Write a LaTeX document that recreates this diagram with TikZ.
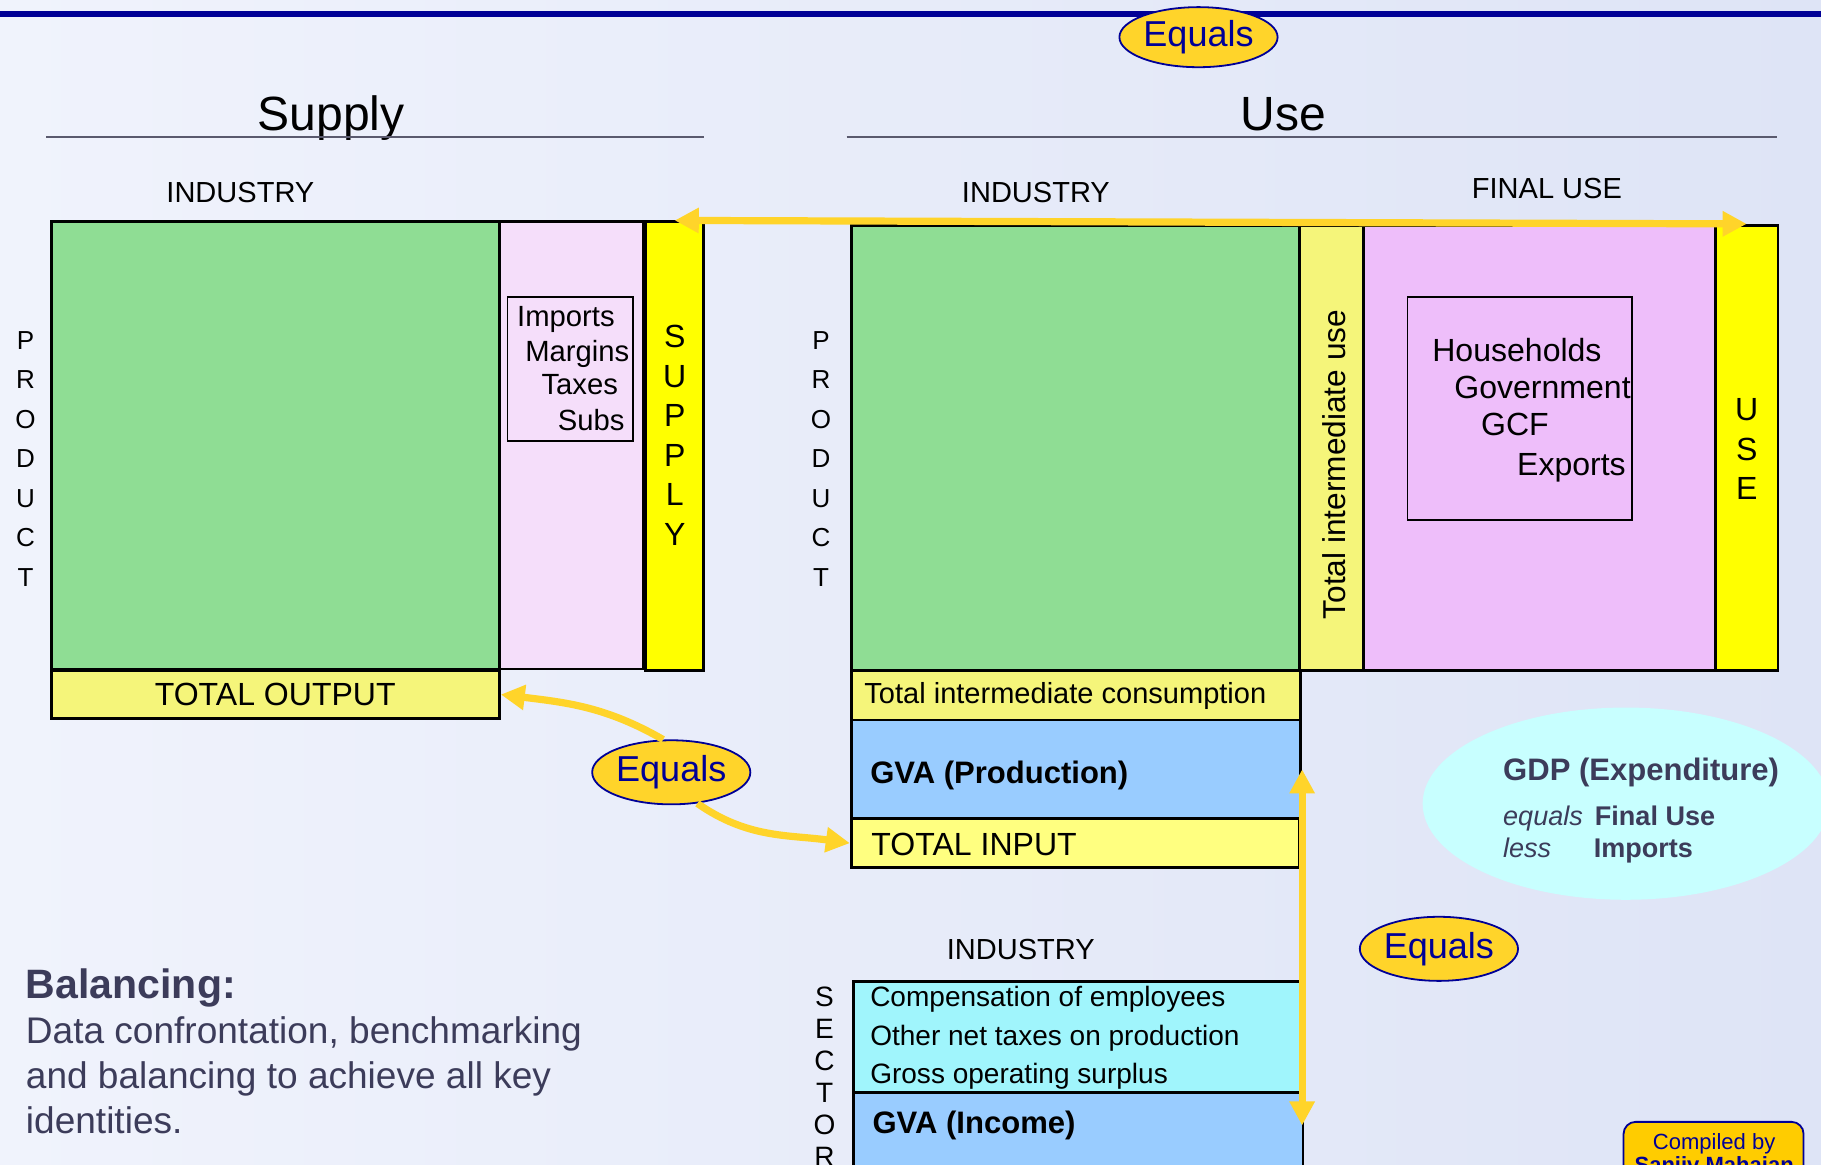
\documentclass[tikz,border=0pt]{standalone}
\usepackage{fontspec}
\setmainfont{Liberation Sans}
\usetikzlibrary{arrows.meta,shapes.geometric,fit}

\definecolor{bgL}{RGB}{240,243,252}
\definecolor{bgR}{RGB}{222,228,246}
\definecolor{navy}{RGB}{0,0,150}
\definecolor{slate}{RGB}{60,60,90}
\definecolor{rulec}{RGB}{90,90,110}
\definecolor{mgreen}{RGB}{143,221,148}
\definecolor{spink}{RGB}{245,222,250}
\definecolor{upink}{RGB}{238,190,250}
\definecolor{syel}{RGB}{255,255,0}
\definecolor{lyel}{RGB}{245,245,122}
\definecolor{tyel}{RGB}{255,255,128}
\definecolor{gvab}{RGB}{153,204,255}
\definecolor{incc}{RGB}{160,245,252}
\definecolor{gdpc}{RGB}{200,255,255}
\definecolor{gold}{RGB}{255,212,42}
\definecolor{compy}{RGB}{255,204,0}
\newcommand\fsz[2]{\fontsize{#1}{#2}\selectfont}

\begin{document}
\begin{tikzpicture}[x=0.58pt,y=-0.58pt,
  blk/.style={draw=black,line width=1.4pt,inner sep=0pt},
  thinbox/.style={draw=black,line width=0.9pt},
  lbl/.style={inner sep=0pt},
  eqs/.style={ellipse,draw=navy,line width=0.9pt,fill=gold,text=navy,inner sep=0pt,
    minimum width=79pt,minimum height=32pt,font=\fsz{18}{21}},
  goldone/.style={draw=gold,line width=3.6pt,-{Triangle[length=12pt,width=12pt]}},
  goldtwo/.style={draw=gold,line width=3.6pt,{Triangle[length=12pt,width=12pt]}-{Triangle[length=12pt,width=12pt]}}]
  % ---------------- background ----------------
  \shade[left color=bgL,right color=bgR] (0,0) rectangle (1568,1003);
  \useasboundingbox (0,0) rectangle (1568,1003);
  \draw[navy,line width=2.6pt] (0,12) -- (1568,12);

  % ---------------- titles ----------------
  \node[lbl,anchor=base,font=\fsz{24}{28}] (suptitle) at (285,112) {Supply};
  \node[lbl,anchor=base,font=\fsz{24}{28}] (usetitle) at (1105,112) {Use};
  \draw[rulec,line width=0.8pt] (40,118) -- (606,118);
  \draw[rulec,line width=0.8pt] (729,118) -- (1530,118);
  \node[lbl,font=\fsz{14.5}{17}] (indsup) at (207,166) {INDUSTRY};
  \node[lbl,font=\fsz{14.5}{17}] (induse) at (892,166) {INDUSTRY};
  \node[lbl,font=\fsz{14.5}{17}] (finuse) at (1332,162) {FINAL USE};

  % ---------------- supply table ----------------
  \node[blk,fill=mgreen,fit={(44,191)(430,576)}] (supgreen) {};
  \node[blk,fill=spink,fit={(430,191)(554,576)}] (suppink) {};
  \node[blk,fill=syel,fit={(556,191)(606,577)}] (supply) {};
  \draw[thinbox] (437,256) rectangle (545,380);
  \foreach \t/\x/\y in {Imports/445/281,Margins/452/311,Taxes/466/340,Subs/480/371}
    \node[lbl,anchor=base west,font=\fsz{14.6}{17}] (sup\t) at (\x,\y) {\t};
  \foreach \l [count=\i] in {S,U,P,P,L,Y}
    \node[lbl,font=\fsz{16}{19}] (sl\i) at (581,256+34*\i) {\l};
  \foreach \l [count=\i] in {P,R,O,D,U,C,T}
    {\node[lbl,font=\fsz{13}{15}] (pa\i) at (22,259+34*\i) {\l};
     \node[lbl,font=\fsz{13}{15}] (pb\i) at (707,259+34*\i) {\l};}
  \node[blk,fill=lyel,fit={(44,577)(430,619)}] (totout) {};
  \node[lbl,font=\fsz{16}{19}] (totouttxt) at (totout) {TOTAL OUTPUT};

  % ---------------- use table ----------------
  \node[blk,fill=mgreen,fit={(733,194)(1119,577)}] (usegreen) {};
  \node[blk,fill=lyel,fit={(1119,194)(1174,577)}] (tiu) {};
  \node[lbl,rotate=90,font=\fsz{15.8}{18}] (tiutxt) at (1149,400) {Total intermediate use};
  \node[blk,fill=upink,fit={(1174,194)(1477,577)}] (finpink) {};
  \draw[thinbox] (1212,256) rectangle (1405,448);
  \foreach \t/\x/\y in {Households/1233/311,Government/1252/343,GCF/1275/375,Exports/1306/409}
    \node[lbl,anchor=base west,font=\fsz{16}{19}] (fu\t) at (\x,\y) {\t};
  \node[blk,fill=syel,fit={(1477,194)(1531,577)}] (use) {};
  \foreach \l [count=\i] in {U,S,E}
    \node[lbl,font=\fsz{16}{19}] (ul\i) at (1504,319+34*\i) {\l};

  % ---------------- production side ----------------
  \node[blk,fill=lyel,fit={(733,577)(1120,620)}] (tic) {};
  \node[lbl,anchor=base west,font=\fsz{14.5}{17}] (tictxt) at (744,606) {Total intermediate consumption};
  \node[blk,fill=gvab,fit={(733,620)(1120,705)}] (gvaprod) {};
  \node[lbl,anchor=base west,font=\bfseries\fsz{15.5}{18}] (gvaprodtxt) at (749,675) {GVA (Production)};
  \node[blk,fill=tyel,fit={(733,705)(1119,747)}] (totin) {};
  \node[lbl,anchor=west,font=\fsz{16}{19}] (totintxt) at (750,727) {TOTAL INPUT};

  % ---------------- income side ----------------
  \node[lbl,font=\fsz{14.5}{17}] (indinc) at (879,818) {INDUSTRY};
  \foreach \l [count=\i] in {S,E,C,T,O,R}
    \node[lbl,font=\fsz{14}{17}] (sc\i) at (710,830.4+27.6*\i) {\l};
  \node[blk,fill=incc,fit={(735,845)(1120,941)}] (incparts) {};
  \foreach \t/\y in {Compensation of employees/867,Other net taxes on production/900,Gross operating surplus/933}
    \node[lbl,anchor=base west,font=\fsz{14}{17}] (inc\y) at (749,\y) {\t};
  \node[blk,fill=gvab,fit={(735,941)(1122,1030)}] (gvainc) {};
  \node[lbl,anchor=base west,font=\bfseries\fsz{15.5}{18}] (gvainctxt) at (751,976) {GVA (Income)};

  % ---------------- equals links ----------------
  \node[eqs,minimum height=30pt] (eqtop) at (1032,32) {Equals};
  \draw[goldtwo] (supply.north) -- (use.north);
  \node[eqs] (eqmid) at (578,665) {Equals};
  \draw[goldone] (eqmid.104) to[out=150,in=-7] (totout.east);
  \draw[goldone] (eqmid.-50) to[out=-35,in=172] (totin.west);
  \node[eqs] (eqinc) at (1239,817) {Equals};
  \draw[goldtwo] (gvaprod.east) -- (gvaprod.east |- gvainctxt);

  % ---------------- GDP and notes ----------------
  \node[ellipse,fill=gdpc,minimum width=203pt,minimum height=96pt,inner sep=0pt] (gdp) at (1400,692) {};
  \node[lbl,anchor=base west,font=\bfseries\fsz{15.5}{18},text=slate] (gdptitle) at (1294,672) {GDP (Expenditure)};
  \node[lbl,anchor=base west,font=\itshape\fsz{13.5}{16},text=slate] (gdpeq) at (1294,711) {equals};
  \node[lbl,anchor=base west,font=\bfseries\fsz{13.5}{16},text=slate] (gdpfu) at (1373,711) {Final Use};
  \node[lbl,anchor=base west,font=\itshape\fsz{13.5}{16},text=slate] (gdpless) at (1294,738) {less};
  \node[lbl,anchor=base west,font=\bfseries\fsz{13.5}{16},text=slate] (gdpimp) at (1372,738) {Imports};

  \node[lbl,anchor=base west,font=\bfseries\fsz{20.5}{24},text=slate] (baltitle) at (22,860) {Balancing:};
  \foreach \t [count=\i] in {{Data confrontation, benchmarking},{and balancing to achieve all key},{identities.}}
    \node[lbl,anchor=base west,font=\fsz{18.5}{22},text=slate] (bal\i) at (22,859.5+38.7*\i) {\t};

  \node[draw=navy,line width=0.9pt,fill=compy,rounded corners=6pt,inner sep=0pt,fit={(1398,966)(1553,1030)}] (compbox) {};
  \node[lbl,anchor=base,font=\fsz{11}{13},text=navy] (comp1) at (1476,990) {Compiled by};
  \node[lbl,anchor=base,font=\bfseries\fsz{11}{13},text=navy] (comp2) at (1476,1010) {Sanjiv Mahajan};
\end{tikzpicture}
\end{document}
